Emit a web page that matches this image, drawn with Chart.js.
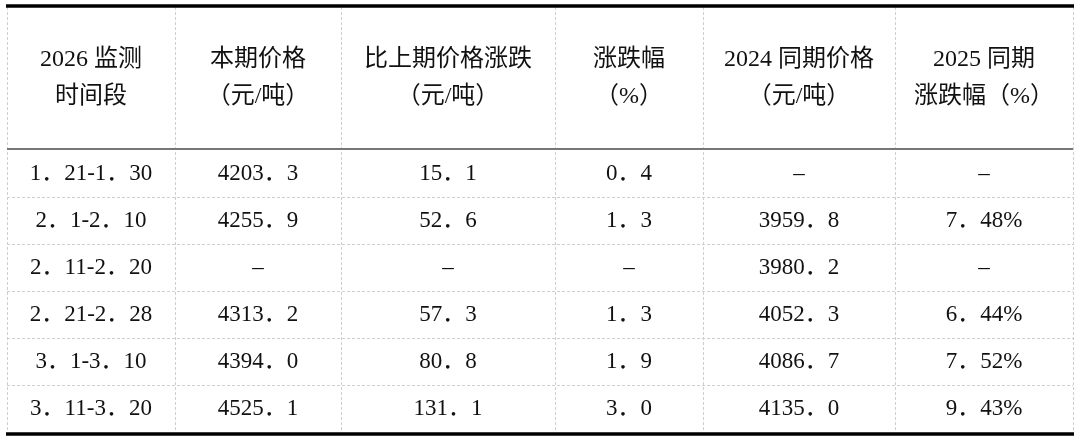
<!DOCTYPE html>
<html>
<head>
<meta charset="utf-8">
<script src="https://cdn.jsdelivr.net/npm/chart.js@4"></script>
<style>
html,body{margin:0;padding:0;background:#fff;}
#wrap{width:1080px;height:440px;}
</style>
</head>
<body>
<div id="wrap"><canvas id="tbl"></canvas></div>
<script>
const headers = [
    ["2026 监测", "时间段"],
    ["本期价格", "（元/吨）"],
    ["比上期价格涨跌", "（元/吨）"],
    ["涨跌幅", "（%）"],
    ["2024 同期价格", "（元/吨）"],
    ["2025 同期", "涨跌幅（%）"]
];
const periods = ["1.21-1.30", "2.1-2.10", "2.11-2.20", "2.21-2.28", "3.1-3.10", "3.11-3.20"];
const price = ["4203.3", "4255.9", "-", "4313.2", "4394.0", "4525.1"];
const change = ["15.1", "52.6", "-", "57.3", "80.8", "131.1"];
const changePct = ["0.4", "1.3", "-", "1.3", "1.9", "3.0"];
const price2024 = ["-", "3959.8", "3980.2", "4052.3", "4086.7", "4135.0"];
const yoyPct = ["-", "7.48%", "-", "6.44%", "7.52%", "9.43%"];

// column edges / row edges in chart units (x 0..1080, y 0..440)
const colEdges = [7, 175, 341, 555, 703, 895, 1073];
const rowEdges = [150, 197, 244, 291, 338, 385, 432];

const columns = [periods, price, change, changePct, price2024, yoyPct];
const font = '23px "Liberation Serif", "Noto Sans CJK SC", serif';
const headFont = '24px "Liberation Serif", "Noto Sans CJK SC", serif';

// SimSun-like look: wide periods, en dash for empty cells
function shown(v) {
    if (v === '-') return '–';
    return v.replace(/\./g, '．');
}

const tablePlugin = {
    id: 'tablePlugin',
    afterDraw(chart) {
        const ctx = chart.ctx;
        const xs = chart.scales.x, ys = chart.scales.y;
        const X = v => xs.getPixelForValue(v);
        const Y = v => ys.getPixelForValue(v);
        ctx.save();

        // dashed grid
        ctx.strokeStyle = '#cfcfcf';
        ctx.lineWidth = 1;
        ctx.setLineDash([3, 2]);
        colEdges.forEach(c => {
            ctx.beginPath(); ctx.moveTo(X(c) + 0.5, Y(7)); ctx.lineTo(X(c) + 0.5, Y(432)); ctx.stroke();
        });
        rowEdges.slice(1, -1).forEach(r => {
            ctx.beginPath(); ctx.moveTo(X(7), Y(r) + 0.5); ctx.lineTo(X(1073), Y(r) + 0.5); ctx.stroke();
        });
        ctx.setLineDash([]);

        // header separator
        ctx.strokeStyle = '#777';
        ctx.lineWidth = 2;
        ctx.beginPath(); ctx.moveTo(X(7), Y(149)); ctx.lineTo(X(1073), Y(149)); ctx.stroke();

        // top and bottom rules
        ctx.strokeStyle = '#000';
        ctx.lineWidth = 3.5;
        ctx.beginPath(); ctx.moveTo(X(6), Y(6)); ctx.lineTo(X(1074), Y(6)); ctx.stroke();
        ctx.beginPath(); ctx.moveTo(X(6), Y(434)); ctx.lineTo(X(1074), Y(434)); ctx.stroke();

        // text
        ctx.fillStyle = '#111';
        ctx.textAlign = 'center';
        ctx.textBaseline = 'middle';
        ctx.font = headFont;
        headers.forEach((h, i) => {
            const cx = X((colEdges[i] + colEdges[i + 1]) / 2);
            ctx.fillText(h[0], cx, Y(60));
            ctx.fillText(h[1], cx, Y(97));
        });
        ctx.font = font;
        columns.forEach((col, i) => {
            const cx = X((colEdges[i] + colEdges[i + 1]) / 2);
            col.forEach((v, j) => {
                ctx.fillText(shown(v), cx, Y((rowEdges[j] + rowEdges[j + 1]) / 2));
            });
        });
        ctx.restore();
    }
};

new Chart(document.getElementById('tbl'), {
    type: 'scatter',
    data: { datasets: [{ data: [] }] },
    options: {
        responsive: true,
        maintainAspectRatio: false,
        animation: false,
        layout: { padding: 0 },
        plugins: { legend: { display: false }, tooltip: { enabled: false } },
        scales: {
            x: { type: 'linear', min: 0, max: 1080, display: false },
            y: { type: 'linear', min: 0, max: 440, reverse: true, display: false }
        }
    },
    plugins: [tablePlugin]
});
</script>
</body>
</html>
